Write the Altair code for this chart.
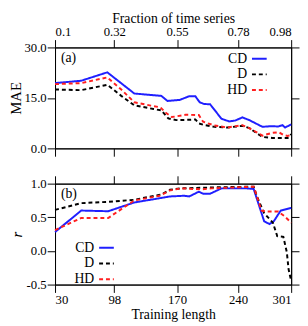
import altair as alt
import pandas as pd

# ---------------- data ----------------
series_names = ["CD", "D", "HD"]
series_colors = ["#1f1fff", "#000000", "#ff1f1f"]

length_ticks = [30, 98, 170, 240, 301]
frac_labels = ["0.1", "0.32", "0.55", "0.78", "0.98"]
mae_ticks = [0, 15, 30]
r_ticks = [-0.5, 0.0, 0.5, 1.0]

# panel (a): MAE
cd_mae_x = [30, 60, 90, 121, 152, 159, 173, 184, 191, 196, 201, 208, 221, 230, 237, 245, 253, 268, 278, 286, 291, 294, 301]
cd_mae_y = [19.4, 20.1, 22.6, 16.3, 15.6, 14.1, 14.4, 15.5, 15.5, 13.7, 13.2, 13.1, 8.8, 8.0, 8.3, 9.2, 8.4, 6.4, 6.6, 6.5, 6.9, 6.2, 7.1]

d_mae_x = [30, 60, 90, 106, 121, 143, 152, 160, 169, 184, 191, 195, 202, 213, 228, 245, 253, 268, 279, 290, 297, 301]
d_mae_y = [17.5, 17.3, 18.9, 15.6, 12.8, 11.7, 11.3, 8.9, 8.4, 8.5, 8.6, 7.4, 6.9, 6.4, 6.2, 6.7, 6.0, 3.4, 3.1, 3.1, 3.1, 4.2]

hd_mae_x = [30, 60, 90, 106, 121, 140, 151, 156, 164, 180, 195, 200, 213, 228, 245, 253, 268, 279, 287, 292, 297, 301]
hd_mae_y = [19.1, 19.4, 21.1, 17.5, 13.7, 12.7, 12.2, 10.8, 9.3, 10.0, 9.9, 7.9, 6.8, 6.2, 6.9, 6.0, 3.8, 4.6, 4.8, 4.0, 3.7, 4.0]

# panel (b): r
cd_r_x = [30, 60, 91, 121, 162, 178, 184, 195, 200, 208, 221, 250, 258, 267, 270, 276, 281, 289, 301]
cd_r_y = [0.28, 0.60, 0.59, 0.72, 0.81, 0.82, 0.81, 0.88, 0.85, 0.85, 0.93, 0.93, 0.92, 0.56, 0.44, 0.40, 0.44, 0.60, 0.64]

d_r_x = [30, 60, 91, 121, 152, 162, 175, 215, 258, 262, 270, 280, 285, 292, 296, 298, 301]
d_r_y = [0.61, 0.71, 0.73, 0.76, 0.84, 0.91, 0.93, 0.945, 0.955, 0.80, 0.56, 0.42, 0.22, 0.21, -0.02, -0.27, -0.45]

hd_r_x = [30, 60, 91, 121, 150, 162, 175, 198, 210, 258, 267, 272, 286, 293, 301]
hd_r_y = [0.31, 0.49, 0.49, 0.75, 0.82, 0.90, 0.93, 0.915, 0.93, 0.955, 0.60, 0.585, 0.585, 0.52, 0.42]


def long_df(parts):
    rows = []
    for name, xs, ys in parts:
        for x, y in zip(xs, ys):
            rows.append({"L": x, "v": y, "series": name})
    return pd.DataFrame(rows)


df_a = long_df([("CD", cd_mae_x, cd_mae_y), ("D", d_mae_x, d_mae_y), ("HD", hd_mae_x, hd_mae_y)])
df_b = long_df([("CD", cd_r_x, cd_r_y), ("D", d_r_x, d_r_y), ("HD", hd_r_x, hd_r_y)])

FONT = "Liberation Serif"
W, H = 241, 103

frac_expr = " : ".join(f"datum.value == {v} ? '{s}'" for v, s in zip(length_ticks, frac_labels)) + " : ''"
xscale = alt.Scale(domain=[length_ticks[0], length_ticks[-1]], nice=False, zero=False)
color_scale = alt.Scale(domain=series_names, range=series_colors)
dash_scale = alt.Scale(domain=series_names, range=[[1, 0], [4, 3], [4, 3]])

# legend symbol: a short stroke, with an invisible anchor point far to the left so that
# every legend row has the same left bound (labels sit to the left of the symbols)
LEG_SYMBOL = "M-5,0M-1,0H1"


def make_legend(lx, ly):
    return alt.Legend(
        orient="none", legendX=lx, legendY=ly, title=None,
        symbolType=LEG_SYMBOL, symbolSize=225, symbolStrokeWidth=2,
        labelAlign="right", labelOffset={"expr": "-21"}, labelFont=FONT, labelFontSize=14,
        labelColor="black", rowPadding={"expr": "-2"}, padding=0,
    )


def panel(df, ydomain, yticks, ytitle, is_top, legend_xy, tag, ytitle_style, ytitle_size, ytitle_pad):
    yscale = alt.Scale(domain=ydomain, nice=False, zero=False)
    if is_top:
        xb_axis = alt.Axis(values=length_ticks, labels=False, title=None, orient="bottom")
        xt_axis = alt.Axis(values=length_ticks, labelExpr=frac_expr, title="Fraction of time series",
                           orient="top", titlePadding=0, titleFont=FONT, titleFontWeight="normal")
    else:
        xb_axis = alt.Axis(values=length_ticks, title="Training length", orient="bottom", titlePadding=1.5,
                           titleFont=FONT, titleFontWeight="normal")
        xt_axis = alt.Axis(values=length_ticks, labels=False, title=None, orient="top")
    yl_axis = alt.Axis(values=yticks, orient="left", title=ytitle, titleFontStyle=ytitle_style,
                       titleFontSize=ytitle_size, titlePadding=ytitle_pad, titleFontWeight="normal",
                       labelExpr="replace(format(datum.value, '.1f'), '\u2212', '-')")
    yr_axis = alt.Axis(values=yticks, orient="right", labels=False, title=None)

    leg = make_legend(*legend_xy)
    lines = alt.Chart(df).mark_line(strokeWidth=2).encode(
        x=alt.X("L:Q", scale=xscale, axis=xb_axis),
        y=alt.Y("v:Q", scale=yscale, axis=yl_axis),
        color=alt.Color("series:N", scale=color_scale, legend=leg),
        strokeDash=alt.StrokeDash("series:N", scale=dash_scale, legend=leg),
    )
    frame = alt.Chart(df).mark_point(opacity=0).encode(
        x=alt.X("L:Q", scale=xscale, axis=xt_axis),
        y=alt.Y("v:Q", scale=yscale, axis=yr_axis),
    )
    label = alt.Chart(pd.DataFrame({"t": [tag]})).mark_text(
        align="left", baseline="top", font=FONT, fontSize=14, color="black"
    ).encode(x=alt.value(6), y=alt.value(4), text="t:N")
    return alt.layer(lines, frame, label).resolve_axis(x="independent", y="independent").properties(width=W, height=H)


top = panel(df_a, [0, 30], mae_ticks, "MAE", True, (200, 3), "(a)", "normal", 15, 0)
bottom = panel(df_b, [-0.5, 1.0], r_ticks, "r", False, (44, 57), "(b)", "italic", 15, 2)

chart = alt.vconcat(top, bottom, spacing=18).resolve_scale(
    color="independent", strokeDash="independent"
).properties(padding=0).configure(font=FONT).configure_axis(
    labelFont=FONT, titleFont=FONT, labelFontSize=13, titleFontSize=14,
    labelColor="black", titleColor="black", tickColor="black", domainColor="black",
    tickSize=8, labelPadding=1, titleFontWeight="normal", grid=False, domainWidth=1, tickWidth=1,
).configure_view(stroke="black", strokeWidth=1)

chart.save("out.html", embed_options={"renderer": "svg", "actions": False})
